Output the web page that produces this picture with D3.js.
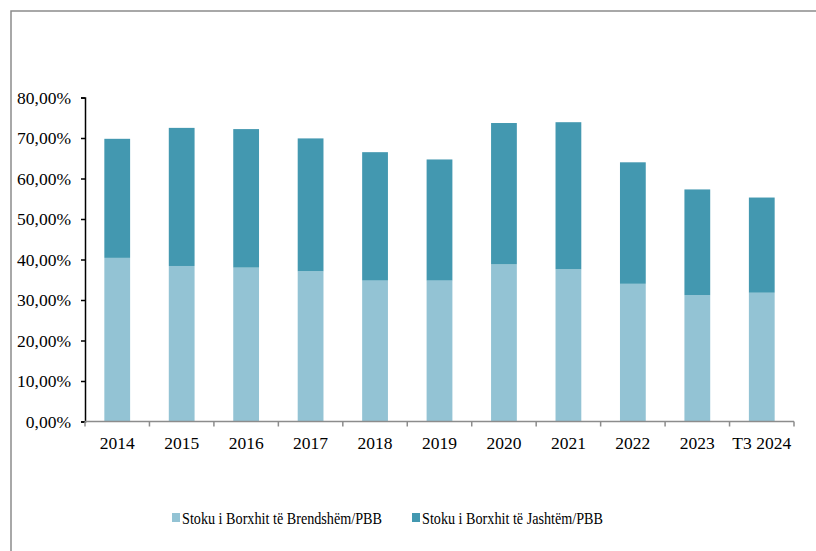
<!DOCTYPE html>
<html>
<head>
<meta charset="utf-8">
<script src="https://cdn.jsdelivr.net/npm/d3@7"></script>
<style>
  body { margin: 0; background: #fff; }
</style>
</head>
<body>
<svg id="chart" width="816" height="551"></svg>
<script>
'use strict';

// categories and series (% of GDP)
const years = ['2014', '2015', '2016', '2017', '2018', '2019', '2020', '2021', '2022', '2023', 'T3 2024'];
const domestic = [40.4, 38.4, 38.0, 37.1, 34.8, 34.8, 38.8, 37.6, 34.0, 31.2, 31.8];
const external = [29.4, 34.1, 34.2, 32.8, 31.7, 29.9, 34.9, 36.3, 30.0, 26.1, 23.5];
const seriesNames = ['Stoku i Borxhit të Brendshëm/PBB', 'Stoku i Borxhit të Jashtëm/PBB'];
const seriesColors = ['#93c3d4', '#4398b0'];
const yTicks = [0, 10, 20, 30, 40, 50, 60, 70, 80];

const FONT = 'Liberation Serif';

const svg = d3.select('#chart');

// outer frame (only top + left edge are visible)
svg.append('path')
  .attr('d', 'M11,551V11H816')
  .attr('fill', 'none')
  .attr('stroke', '#8c8c8c')
  .attr('stroke-width', 1.5);

const plot = {left: 85, right: 794, top: 97.5, bottom: 421.5};

const x = d3.scaleBand()
  .domain(years)
  .range([plot.left, plot.right])
  .paddingInner(0.6)
  .paddingOuter(0.3);

const y = d3.scaleLinear()
  .domain([0, 80])
  .range([plot.bottom, plot.top]);

const rows = years.map((yr, i) => ({year: yr, domestic: domestic[i], external: external[i]}));
const stacked = d3.stack().keys(['domestic', 'external'])(rows);

// bars
svg.append('g').selectAll('g')
  .data(stacked)
  .join('g')
  .attr('fill', (d, i) => seriesColors[i])
  .selectAll('rect')
  .data(d => d)
  .join('rect')
  .attr('x', d => x(d.data.year))
  .attr('width', x.bandwidth())
  .attr('y', d => y(d[1]))
  .attr('height', d => y(d[0]) - y(d[1]));

// y axis
const yAxis = svg.append('g')
  .attr('transform', `translate(${plot.left},0)`)
  .call(d3.axisLeft(y)
    .tickValues(yTicks)
    .tickSize(4)
    .tickPadding(10)
    .tickFormat(d => d3.format('.2f')(d).replace('.', ',') + '%'));
yAxis.attr('font-family', FONT).attr('font-size', 17.5);
yAxis.select('.domain').attr('stroke', '#000').attr('stroke-width', 1.5);
yAxis.selectAll('.tick line').attr('stroke', '#000').attr('stroke-width', 1.5);
yAxis.selectAll('text').attr('fill', '#000');

// x axis: ticks sit on the category boundaries
const xAxis = svg.append('g')
  .attr('transform', `translate(0,${plot.bottom})`)
  .attr('font-family', FONT)
  .attr('font-size', 17.5);
xAxis.append('line')
  .attr('x1', plot.left).attr('x2', plot.right)
  .attr('stroke', '#8c8c8c').attr('stroke-width', 1.5);
const step = (plot.right - plot.left) / years.length;
xAxis.selectAll('line.sep')
  .data(d3.range(years.length + 1))
  .join('line')
  .attr('class', 'sep')
  .attr('x1', i => plot.left + i * step)
  .attr('x2', i => plot.left + i * step)
  .attr('y1', 0).attr('y2', 5)
  .attr('stroke', '#8c8c8c').attr('stroke-width', 1.5);
xAxis.selectAll('text')
  .data(years)
  .join('text')
  .attr('x', d => x(d) + x.bandwidth() / 2)
  .attr('y', 27)
  .attr('text-anchor', 'middle')
  .attr('fill', '#000')
  .text(d => d);

// legend
const legendPos = [172, 412];
const legendWidth = [200, 181];
const legend = svg.append('g')
  .attr('font-family', FONT)
  .attr('font-size', 17)
  .selectAll('g')
  .data(seriesNames)
  .join('g')
  .attr('transform', (d, i) => `translate(${legendPos[i]},513)`);
legend.append('rect')
  .attr('width', 8).attr('height', 9)
  .attr('fill', (d, i) => seriesColors[i]);
legend.append('text')
  .attr('x', 10).attr('y', 11)
  .attr('fill', '#000')
  .attr('textLength', (d, i) => legendWidth[i])
  .attr('lengthAdjust', 'spacingAndGlyphs')
  .text(d => d);
</script>
</body>
</html>
